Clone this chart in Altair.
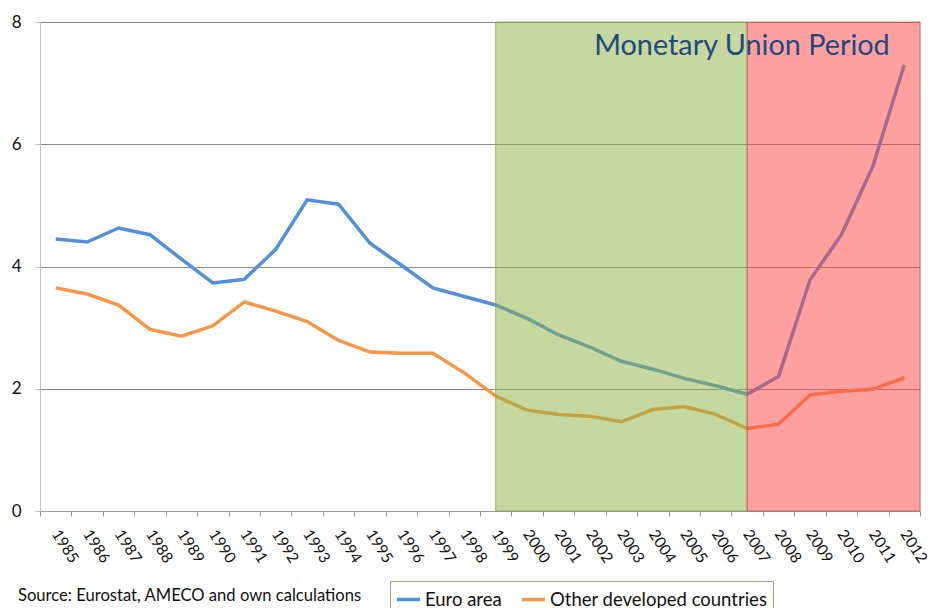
import altair as alt
import pandas as pd

years = ["1985", "1986", "1987", "1988", "1989", "1990", "1991", "1992", "1993", "1994",
         "1995", "1996", "1997", "1998", "1999", "2000", "2001", "2002", "2003", "2004",
         "2005", "2006", "2007", "2008", "2009", "2010", "2011", "2012"]

euro_area = [4.45, 4.40, 4.63, 4.52, 4.12, 3.73, 3.79, 4.28, 5.09, 5.02, 4.38, 4.02, 3.65, 3.51,
             3.37, 3.15, 2.88, 2.68, 2.45, 2.32, 2.17, 2.05, 1.91, 2.20, 3.78, 4.52, 5.64, 7.30]
other_developed = [3.65, 3.55, 3.37, 2.97, 2.86, 3.03, 3.42, 3.27, 3.10, 2.79, 2.60, 2.58, 2.58, 2.26,
                   1.88, 1.65, 1.58, 1.55, 1.46, 1.66, 1.71, 1.58, 1.35, 1.42, 1.90, 1.96, 1.99, 2.18]

series_names = ["Euro area", "Other developed countries"]
series_colors = ["#5390D9", "#F79646"]

band_names = ["Monetary union", "Crisis"]
band_start = [1999, 2007]
band_end = [2007, 2012.5]
band_top = [8, 8]
band_bottom = [0, 0]
band_fill = ["#8BB141", "#FF4141"]
band_stroke = ["#7F9F3F", "#C0504D"]

annotation = "Monetary Union Period"
source_note = "Source: Eurostat, AMECO and own calculations"

rows = []
for name, vals in zip(series_names, [euro_area, other_developed]):
    for yr, v in zip(years, vals):
        rows.append({"year": yr, "series": name, "value": v})
df = pd.DataFrame(rows)

bands_df = pd.DataFrame({"period": band_names, "start": band_start, "end": band_end,
                         "top": band_top, "bottom": band_bottom})

FONT = "Lato"
TXT = "#111111"

y_enc = alt.Y("value:Q", scale=alt.Scale(domain=[0, 8], nice=False, zero=True),
              axis=alt.Axis(values=[0, 2, 4, 6, 8], title=None, grid=True, gridColor="#8C8C8C",
                            gridWidth=1, domainColor="#BFBFBF", tickColor="#BFBFBF", tickSize=5,
                            labelPadding=14, labelFontSize=17, labelFont=FONT, labelColor=TXT,
                            format="d"))

lines = alt.Chart(df).mark_line(strokeWidth=3.5).encode(
    x=alt.X("year:O", sort=years,
            scale=alt.Scale(type="band", paddingInner=0, paddingOuter=0),
            axis=alt.Axis(title=None, labelAngle=57, labelAlign="left", labelBaseline="top",
                          labelOffset=5,
                          tickBand="extent", labelOverlap=False, labelFlush=False,
                          domainColor="#9A9A9A", tickColor="#9A9A9A", tickSize=5,
                          labelPadding=11, labelFontSize=15.5, labelFont=FONT, labelColor=TXT,
                          grid=False)),
    y=y_enc,
    color=alt.Color("series:N", scale=alt.Scale(domain=series_names, range=series_colors),
                    legend=alt.Legend(orient="none", legendX=350, legendY=559, direction="horizontal",
                                      title=None, symbolType="stroke", symbolStrokeWidth=3.5,
                                      symbolSize=529, labelFontSize=18.5, labelFont=FONT,
                                      labelColor=TXT, strokeColor="#A8A27C", fillColor="white",
                                      padding=5, columnPadding=13, labelOffset=3, labelLimit=500)),
)

bands = alt.Chart(bands_df).mark_rect(fillOpacity=0.5, strokeOpacity=0.7, strokeWidth=1).encode(
    x=alt.X("start:Q", scale=alt.Scale(domain=[1984.5, 2012.5], nice=False, zero=False), axis=None),
    x2="end:Q",
    y=alt.Y("top:Q"),
    y2="bottom:Q",
    fill=alt.Fill("period:N", scale=alt.Scale(domain=band_names, range=band_fill), legend=None),
    stroke=alt.Stroke("period:N", scale=alt.Scale(domain=band_names, range=band_stroke), legend=None),
)

title_text = alt.Chart(pd.DataFrame({"label": [annotation]})).mark_text(
    font=FONT, fontSize=28.8, color="#1F497D", align="center", baseline="alphabetic"
).encode(text="label:N", x=alt.value(702), y=alt.value(33))

source_text = alt.Chart(pd.DataFrame({"label": [source_note]})).mark_text(
    font=FONT, fontSize=16.6, color=TXT, align="left", baseline="alphabetic"
).encode(text="label:N", x=alt.value(-22), y=alt.value(579))

chart = alt.layer(lines, bands, title_text, source_text).resolve_scale(
    x="independent"
).properties(
    width=880, height=489,
    autosize=alt.AutoSizeParams(type="none"),
    padding={"left": 32, "top": 14, "right": 10, "bottom": 100},
).configure_view(stroke=None).configure(background="white")

chart.save("out.html", embed_options={"renderer": "svg", "actions": False})
